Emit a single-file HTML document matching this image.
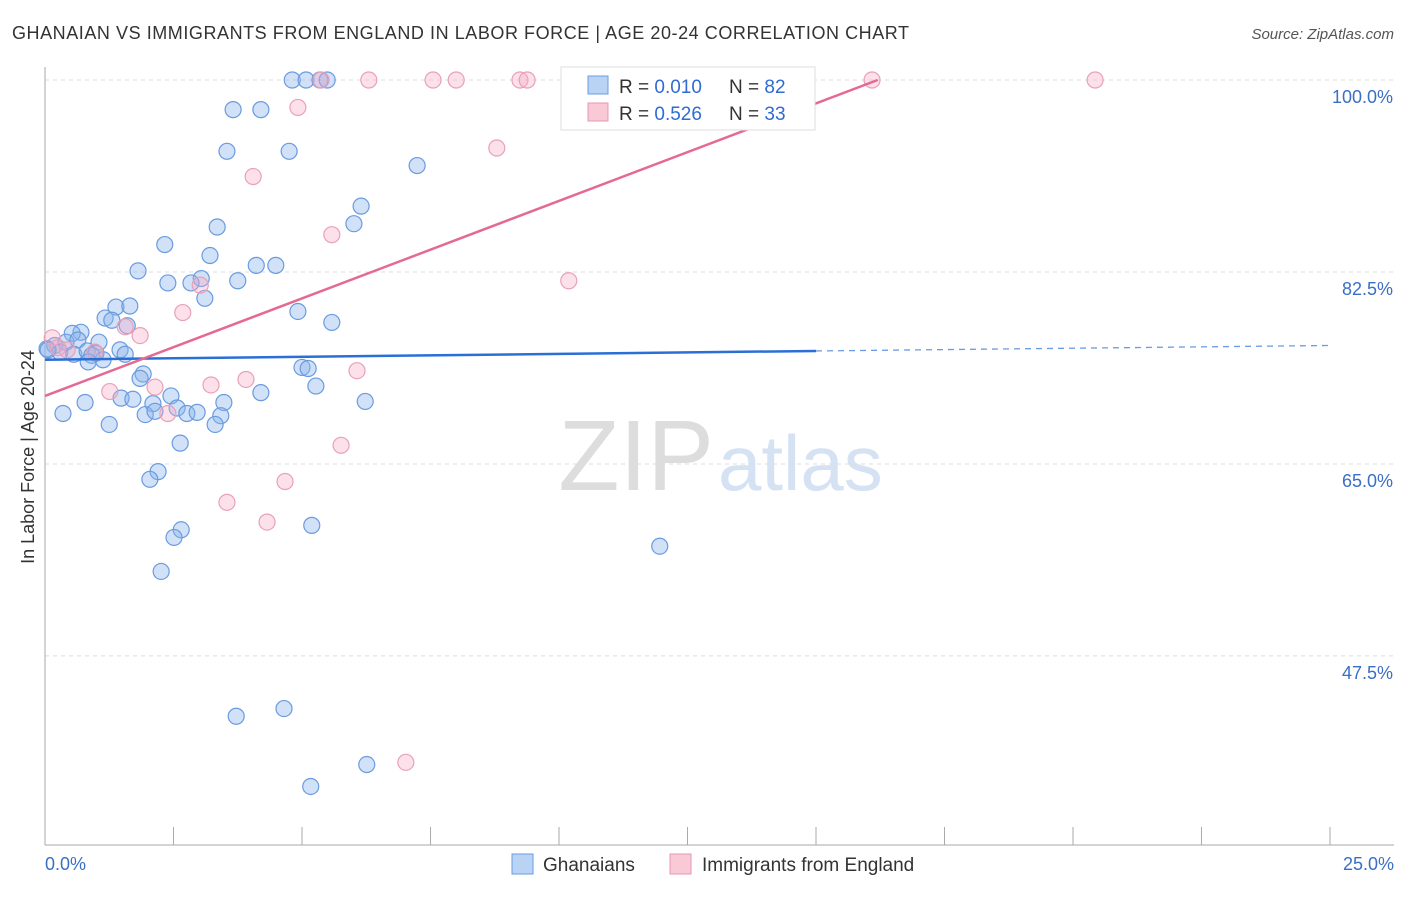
<!DOCTYPE html>
<html><head><meta charset="utf-8"><style>
body{margin:0;background:#fff;font-family:"Liberation Sans",sans-serif}
svg text{font-family:"Liberation Sans",sans-serif}
</style></head><body>
<svg id="chart" width="1406" height="892">
<text x="12" y="39" font-size="18" fill="#333" textLength="897">GHANAIAN VS IMMIGRANTS FROM ENGLAND IN LABOR FORCE | AGE 20-24 CORRELATION CHART</text>
<text x="1394" y="39" font-size="15" fill="#555" font-style="italic" text-anchor="end">Source: ZipAtlas.com</text>
<text x="714" y="490" font-size="100" fill="#ddd" text-anchor="end" font-family="Liberation Serif">ZIP</text>
<text x="718" y="490" font-size="78" fill="#d4e2f4">atlas</text>
<g id="grid"></g><g id="axes"></g><g id="pts"></g><g id="lines"></g>
<text transform="translate(34,457) rotate(-90)" font-size="18" fill="#333" text-anchor="middle">In Labor Force | Age 20-24</text>
<text x="45" y="870" font-size="18" fill="#3a6fc4">0.0%</text>
<text x="1394" y="870" font-size="18" fill="#3a6fc4" text-anchor="end">25.0%</text>
<g>
<rect x="561" y="67" width="254" height="63" fill="#fff" stroke="#ddd"/>
<rect x="588" y="76" width="20" height="18" fill="#b9d3f5" stroke="#6a9be0"/>
<rect x="588" y="103" width="20" height="18" fill="#f9c9d8" stroke="#e897b1"/>
<text x="619" y="93" font-size="19" fill="#333">R = <tspan fill="#2f6bd3">0.010</tspan></text>
<text x="729" y="93" font-size="19" fill="#333">N = <tspan fill="#2f6bd3">82</tspan></text>
<text x="619" y="120" font-size="19" fill="#333">R = <tspan fill="#2f6bd3">0.526</tspan></text>
<text x="729" y="120" font-size="19" fill="#333">N = <tspan fill="#2f6bd3">33</tspan></text>
</g>
<g>
<rect x="512" y="854" width="21" height="20" fill="#b9d3f5" stroke="#6a9be0"/>
<text x="543" y="871" font-size="19" fill="#333">Ghanaians</text>
<rect x="670" y="854" width="21" height="20" fill="#f9c9d8" stroke="#e897b1"/>
<text x="702" y="871" font-size="19" fill="#333">Immigrants from England</text>
</g>
</svg>
<script>
const yTicks=[100,82.5,65,47.5];
const xTicks=[0,2.5,5,7.5,10,12.5,15,17.5,20,22.5,25];
const blueX=[4.81,5.08,5.35,5.49,3.66,4.2,3.54,4.75,7.24,6.15,6.01,3.35,2.33,3.21,4.11,4.49,1.81,3.04,2.39,2.84,3.75,3.11,4.92,1.38,1.65,1.17,1.3,1.6,5.58,0.7,0.53,0.41,0.64,1.05,0.19,0.04,0.29,0.56,0.82,0.91,0.99,1.46,1.56,1.13,0.84,5.0,5.12,1.91,1.85,5.27,4.2,1.48,1.71,2.45,2.1,2.57,3.48,6.23,0.78,0.35,1.95,2.14,2.76,2.96,3.42,3.31,1.25,2.63,2.2,2.04,2.65,2.51,5.19,11.96,2.26,3.72,4.65,6.26,5.17,0.06];
const blueY=[100,100,100,100,97.3,97.3,93.5,93.5,92.2,88.5,86.9,86.6,85.0,84.0,83.1,83.1,82.6,81.9,81.5,81.5,81.7,80.1,78.9,79.3,79.4,78.3,78.1,77.6,77.9,77.0,76.9,76.1,76.3,76.1,75.8,75.5,75.2,75.0,75.3,74.9,75.1,75.4,75.0,74.5,74.3,73.8,73.7,73.2,72.8,72.1,71.5,71.0,70.9,71.2,70.5,70.1,70.6,70.7,70.6,69.6,69.5,69.8,69.6,69.7,69.4,68.6,68.6,66.9,64.3,63.6,59.0,58.3,59.4,57.5,55.2,42.0,42.7,37.6,35.6,75.4];
const pinkX=[5.37,6.3,7.55,8.0,9.24,9.38,14.36,16.09,20.43,4.92,8.79,4.05,5.58,10.19,3.02,2.68,1.56,1.85,0.14,0.25,0.43,0.97,3.91,3.23,6.07,2.14,1.26,2.39,5.76,3.54,4.67,4.32,7.02];
const pinkY=[100,100,100,100,100,100,100,100,100,97.5,93.8,91.2,85.9,81.7,81.3,78.8,77.5,76.7,76.5,75.6,75.4,75.2,72.7,72.2,73.5,72.0,71.6,69.6,66.7,61.5,63.4,59.7,37.8];
const blueLine=[[0,74.5],[15,75.3]],blueDash=[[15,75.3],[25,75.8]],pinkLine=[[0,71.2],[16.2,100]];
const X=v=>45+v*51.4, Y=v=>80+(100-v)*10.97;
const NS="http://www.w3.org/2000/svg";
function mk(p,t,a){const e=document.createElementNS(NS,t);for(const k in a)e.setAttribute(k,a[k]);document.getElementById(p).appendChild(e);return e;}
yTicks.forEach(t=>{
 const l=mk('grid','line',{x1:45,x2:1394,y1:Y(t),y2:Y(t),stroke:'#ddd','stroke-dasharray':'4,4'});
 
 
 const tx=mk('grid','text',{x:1393,y:Y(t)+23,'font-size':18,fill:'#3a6fc4','text-anchor':'end'});
 tx.textContent=t.toFixed(1)+'%';
 
 
});
const ax=mk('axes','line',{x1:45,x2:45,y1:67,y2:845,stroke:'#aaa'});


const bx=mk('axes','line',{x1:45,x2:1394,y1:845,y2:845,stroke:'#aaa'});


xTicks.forEach(t=>{const l=mk('axes','line',{x1:X(t),x2:X(t),y1:827,y2:845,stroke:'#aaa'});
 
 });
blueX.forEach((v,i)=>{const c=mk('pts','circle',{cx:X(v),cy:Y(blueY[i]),r:8,fill:'rgba(140,180,235,0.4)',stroke:'#6a9be0','stroke-width':1.2});
 
 });
pinkX.forEach((v,i)=>{const c=mk('pts','circle',{cx:X(v),cy:Y(pinkY[i]),r:8,fill:'rgba(245,170,195,0.35)',stroke:'#eaa0b8','stroke-width':1.2});
 
 });
function ln(d,col,dash,name){const l=mk('lines','line',{x1:X(d[0][0]),y1:Y(d[0][1]),x2:X(d[1][0]),y2:Y(d[1][1]),stroke:col,'stroke-width':dash?1.3:2.5});
 if(dash)l.setAttribute('stroke-dasharray','6,5');
 
 }
ln(blueLine,'#2a6fd6',false,'ghanaian-trend-line');
ln(blueDash,'#6a9be0',true,'ghanaian-trend-extension');
ln(pinkLine,'#e56a93',false,'england-trend-line');
</script>
</body></html>
